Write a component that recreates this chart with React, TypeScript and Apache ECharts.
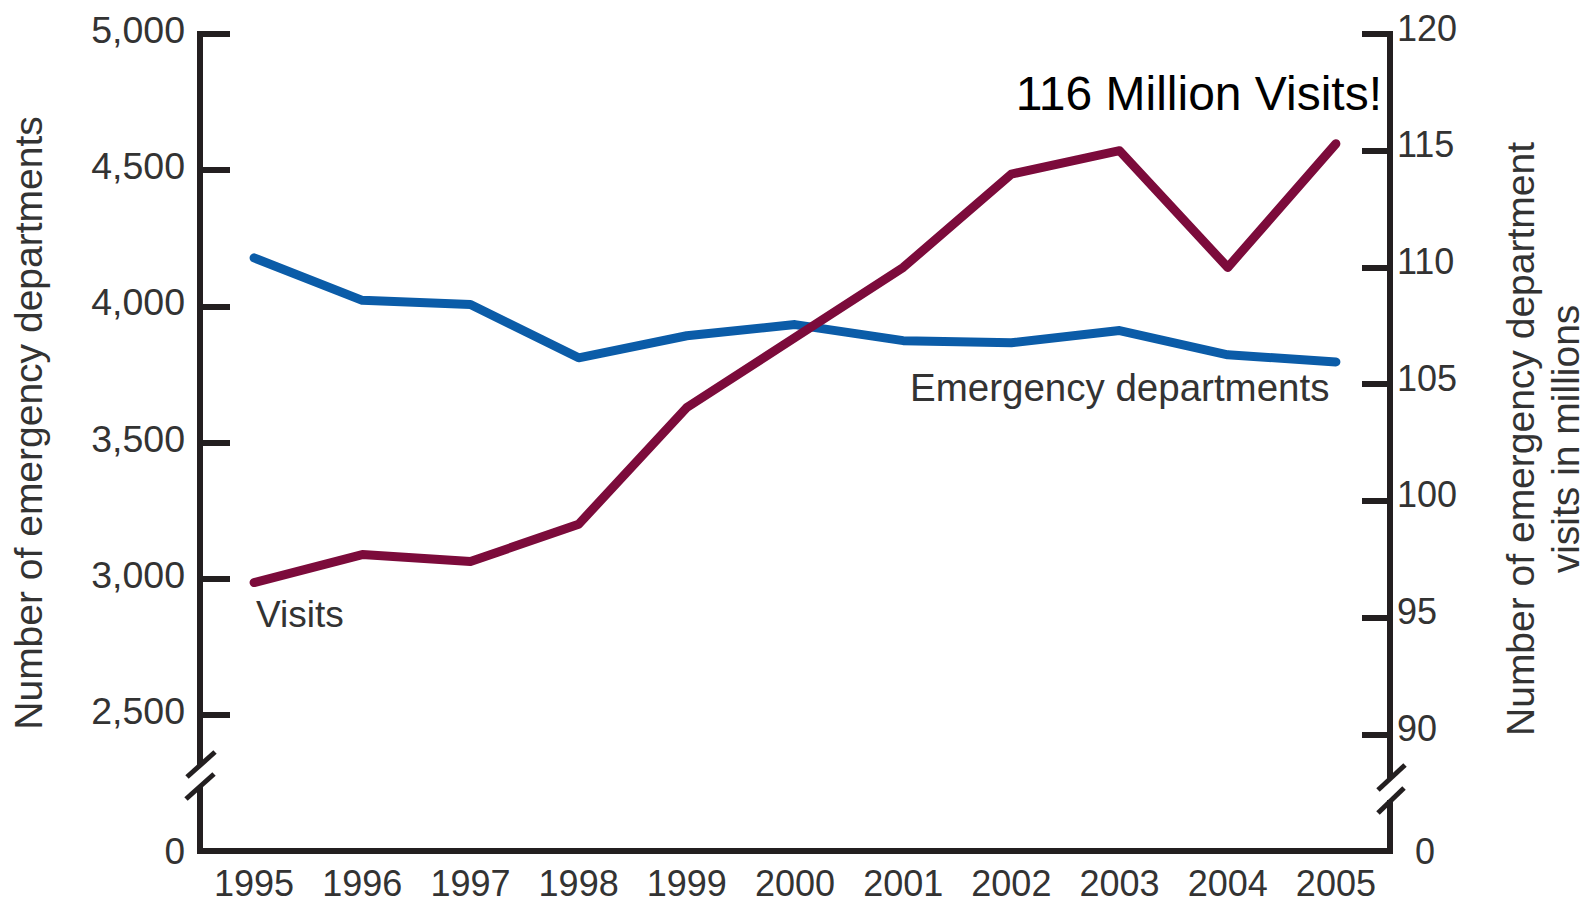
import React, { useEffect, useRef } from "react";
import * as echarts from "echarts";

const years = ["1995", "1996", "1997", "1998", "1999", "2000", "2001", "2002", "2003", "2004", "2005"];
const edCounts = [4178, 4022, 4007, 3811, 3892, 3933, 3874, 3866, 3911, 3822, 3796];
const visitsMillions = [96.5, 97.7, 97.4, 99.0, 104.0, 107.0, 110.0, 114.0, 115.0, 110.0, 115.3];

// broken axes: the lowest tick of each axis stands for 0
const leftAxis = { min: 2000, max: 5000, interval: 500, zeroAt: 2000 };
const rightAxis = { min: 85, max: 120, interval: 5, zeroAt: 85 };

const leftTitle = "Number of emergency departments";
const rightTitle = "Number of emergency department\nvisits in millions";
const edLabel = "Emergency departments";
const visitsLabel = "Visits";
const callout = "116 Million Visits!";

const FONT = "'Liberation Sans', Arial, Helvetica, sans-serif";
const INK = "#231f20";
const LABEL = "#333333";
const BLUE = "#0b5ca8";
const RED = "#7c0b3b";

export default function App() {
  const ref = useRef<HTMLDivElement>(null);
  useEffect(() => {
    if (!ref.current) return;
    const chart = echarts.init(ref.current, null, { renderer: "svg" });
    const axisLineStyle = { color: INK, width: 6, cap: "square" };
    const slash = (x1: number, y1: number, x2: number, y2: number) => ({
      type: "line",
      z: 101,
      shape: { x1, y1, x2, y2 },
      style: { stroke: INK, lineWidth: 5 },
    });
    chart.setOption({
      animation: false,
      backgroundColor: "#ffffff",
      textStyle: { fontFamily: FONT },
      grid: {
        left: 200,
        right: 196,
        top: 34,
        bottom: 53,
        containLabel: false,
        outerBoundsMode: "none",
      },
      xAxis: {
        type: "category",
        data: years,
        boundaryGap: true,
        axisLine: { lineStyle: axisLineStyle },
        axisTick: {
          inside: true,
          length: 19,
          alignWithLabel: true,
          lineStyle: { color: INK, width: 6 },
        },
        axisLabel: { color: LABEL, fontSize: 36, margin: 14, fontFamily: FONT },
        splitLine: { show: false },
      },
      yAxis: [
        {
          type: "value",
          position: "left",
          min: leftAxis.min,
          max: leftAxis.max,
          interval: leftAxis.interval,
          axisLine: { show: true, lineStyle: axisLineStyle },
          axisTick: { show: true, inside: true, length: 30, lineStyle: { color: INK, width: 6 } },
          splitLine: { show: false },
          axisLabel: {
            margin: 15,
            formatter: (v: number) =>
              v === leftAxis.zeroAt ? "{z|0}" : "{a|" + v.toLocaleString("en-US") + "}",
            rich: {
              a: { color: LABEL, fontSize: 37.5, fontFamily: FONT, padding: [0, 0, 8, 0] },
              z: { color: LABEL, fontSize: 37, fontFamily: FONT },
            },
          },
        },
        {
          type: "value",
          position: "right",
          min: rightAxis.min,
          max: rightAxis.max,
          interval: rightAxis.interval,
          axisLine: { show: true, lineStyle: axisLineStyle },
          axisTick: { show: true, inside: true, length: 28, lineStyle: { color: INK, width: 6 } },
          splitLine: { show: false },
          axisLabel: {
            margin: 7,
            formatter: (v: number) => (v === rightAxis.zeroAt ? "{z|0}" : "{a|" + v + "}"),
            rich: {
              a: { color: LABEL, fontSize: 36, fontFamily: FONT, padding: [0, 0, 12, 0] },
              z: { color: LABEL, fontSize: 36, fontFamily: FONT, padding: [0, 0, 0, 18] },
            },
          },
        },
      ],
      series: [
        {
          name: edLabel,
          type: "line",
          yAxisIndex: 0,
          data: edCounts,
          showSymbol: false,
          lineStyle: { color: BLUE, width: 9, cap: "round", join: "round" },
          itemStyle: { color: BLUE },
          z: 3,
        },
        {
          name: visitsLabel,
          type: "line",
          yAxisIndex: 1,
          data: visitsMillions,
          showSymbol: false,
          lineStyle: { color: RED, width: 9, cap: "round", join: "round" },
          itemStyle: { color: RED },
          z: 4,
        },
      ],
      graphic: [
        // axis breaks
        { type: "rect", z: 100, shape: { x: 194, y: 766, width: 12, height: 20 }, style: { fill: "#ffffff" } },
        slash(187, 777, 215, 752),
        slash(186, 799, 214, 774),
        { type: "rect", z: 100, shape: { x: 1384, y: 779, width: 12, height: 21 }, style: { fill: "#ffffff" } },
        slash(1378, 790, 1405, 765),
        slash(1378, 813, 1404, 788),
        // titles
        {
          type: "text",
          x: 28,
          y: 423,
          rotation: Math.PI / 2,
          style: {
            text: leftTitle,
            fill: LABEL,
            font: `39px ${FONT}`,
            align: "center",
            verticalAlign: "middle",
          },
        },
        {
          type: "text",
          x: 1543,
          y: 439,
          rotation: Math.PI / 2,
          style: {
            text: rightTitle,
            fill: LABEL,
            font: `39px ${FONT}`,
            lineHeight: 45,
            align: "center",
            verticalAlign: "middle",
          },
        },
        // annotations
        {
          type: "text",
          x: 910,
          y: 387,
          z: 10,
          style: { text: edLabel, fill: LABEL, font: `38.5px ${FONT}`, align: "left", verticalAlign: "middle" },
        },
        {
          type: "text",
          x: 256,
          y: 614,
          z: 10,
          style: { text: visitsLabel, fill: LABEL, font: `37px ${FONT}`, align: "left", verticalAlign: "middle" },
        },
        {
          type: "text",
          x: 1382,
          y: 93,
          z: 10,
          style: { text: callout, fill: "#000000", font: `48px ${FONT}`, align: "right", verticalAlign: "middle" },
        },
      ],
    });
    return () => chart.dispose();
  }, []);
  return (
    <div
      ref={ref}
      style={{ position: "absolute", left: 0, top: 0, width: 1586, height: 904 }}
    />
  );
}
